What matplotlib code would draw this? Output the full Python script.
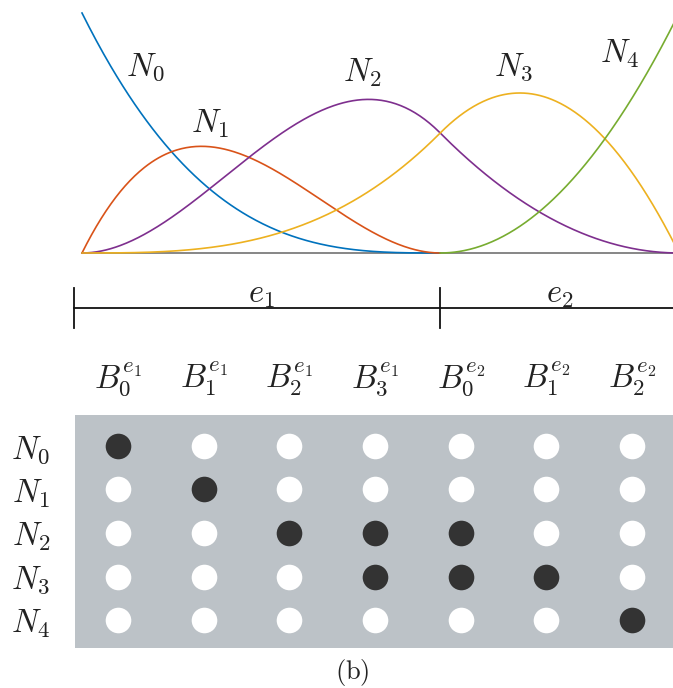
import numpy as np
import matplotlib
matplotlib.use("Agg")
import matplotlib.pyplot as plt
from math import comb

plt.rcParams["mathtext.fontset"] = "cm"
plt.rcParams["font.family"] = ["DejaVu Serif"]

# element boundaries: e1 is cubic, e2 is quadratic
breaks = [0.0, 3.0, 5.0]
degrees = [3, 2]
elements = ["e_1", "e_2"]

# extraction operator: rows are spline functions N_i,
# columns are the local Bernstein polynomials B_j^{e}
functions = ["N_0", "N_1", "N_2", "N_3", "N_4"]
extraction = [
    [1.0, 0.0, 0.0, 0.0, 0.0, 0.0, 0.0],
    [0.0, 1.0, 0.0, 0.0, 0.0, 0.0, 0.0],
    [0.0, 0.0, 1.0, 0.5, 0.5, 0.0, 0.0],
    [0.0, 0.0, 0.0, 0.5, 0.5, 1.0, 0.0],
    [0.0, 0.0, 0.0, 0.0, 0.0, 0.0, 1.0],
]
bernstein_labels = [
    (e, j) for e, p in zip(elements, degrees) for j in range(p + 1)
]

colors = ["#0072BD", "#D95319", "#7E2F8E", "#EDB120", "#77AC30"]
label_pos = [(0.53, 0.775), (1.07, 0.54), (2.35, 0.75), (3.61, 0.775), (4.50, 0.83)]
text_color = "#222222"
fs = 23.5

W, H = 673, 688
fig = plt.figure(figsize=(W / 100, H / 100), dpi=100)

# --- basis functions -------------------------------------------------------
ax = fig.add_axes([82 / W, 1 - 253 / H, 597 / W, 240 / H])
ax.set_xlim(breaks[0], breaks[-1])
ax.set_ylim(0, 1)
ax.axis("off")

C = np.array(extraction)
col = 0
pieces = []
for k, p in enumerate(degrees):
    a, b = breaks[k], breaks[k + 1]
    x = np.linspace(a, b, 300)
    t = (x - a) / (b - a)
    B = np.array([comb(p, j) * t**j * (1 - t) ** (p - j) for j in range(p + 1)])
    pieces.append((x, C[:, col:col + p + 1] @ B, C[:, col:col + p + 1]))
    col += p + 1

ax.axhline(0, color="#666666", lw=1.1, zorder=1, clip_on=False)
for i, name in enumerate(functions):
    # draw each function only over the elements it is supported on
    xs, ys = [], []
    for x, vals, coef in pieces:
        if np.any(coef[i] != 0):
            xs.append(x)
            ys.append(vals[i])
    ax.plot(np.concatenate(xs), np.concatenate(ys), color=colors[i], lw=1.2,
            zorder=2 + i * 0.1, clip_on=False)
    ax.text(*label_pos[i], f"${name}$", fontsize=fs, color=text_color,
            ha="center", va="center")

# element bracket under the curves
y_br = -0.229
x_left = -0.067
ax.plot([x_left, breaks[-1]], [y_br, y_br], color="#111111", lw=1.3, clip_on=False)
for xb in [x_left] + breaks[1:-1]:
    ax.plot([xb, xb], [y_br + 0.083, y_br - 0.083], color="#111111", lw=1.3,
            clip_on=False)
for k, e in enumerate(elements):
    ax.text((breaks[k] + breaks[k + 1]) / 2, y_br + 0.06, f"${e}$", fontsize=fs,
            color=text_color, ha="center", va="center")

# --- sparsity pattern of the extraction operator ---------------------------
mx = fig.add_axes([75 / W, 1 - 648 / H, 600 / W, 233 / H])
mx.set_facecolor("#bcc2c7")
mx.set_xlim(-0.5, C.shape[1] - 0.5)
mx.set_ylim(C.shape[0] - 1 + 0.64, -0.71)
for s in mx.spines.values():
    s.set_visible(False)

rows, cols = np.meshgrid(np.arange(C.shape[0]), np.arange(C.shape[1]), indexing="ij")
nz = C != 0
mx.scatter(cols[~nz], rows[~nz], s=340, color="white", lw=0)
mx.scatter(cols[nz], rows[nz], s=340, color="#333333", lw=0)

mx.xaxis.tick_top()
mx.set_xticks(range(C.shape[1]))
mx.set_xticklabels([f"$B_{j}^{{{e}}}$" for e, j in bernstein_labels],
                   fontsize=fs, color=text_color)
mx.set_yticks(range(C.shape[0]))
mx.set_yticklabels([f"${n}$" for n in functions], fontsize=fs, color=text_color)
mx.tick_params(axis="x", length=0, pad=12)
mx.tick_params(axis="y", length=0, pad=18)

fig.text(352 / W, 1 - 673 / H, r"$\mathrm{(b)}$", fontsize=19, color=text_color,
         ha="center", va="center")

fig.savefig("out.png", dpi=100)
